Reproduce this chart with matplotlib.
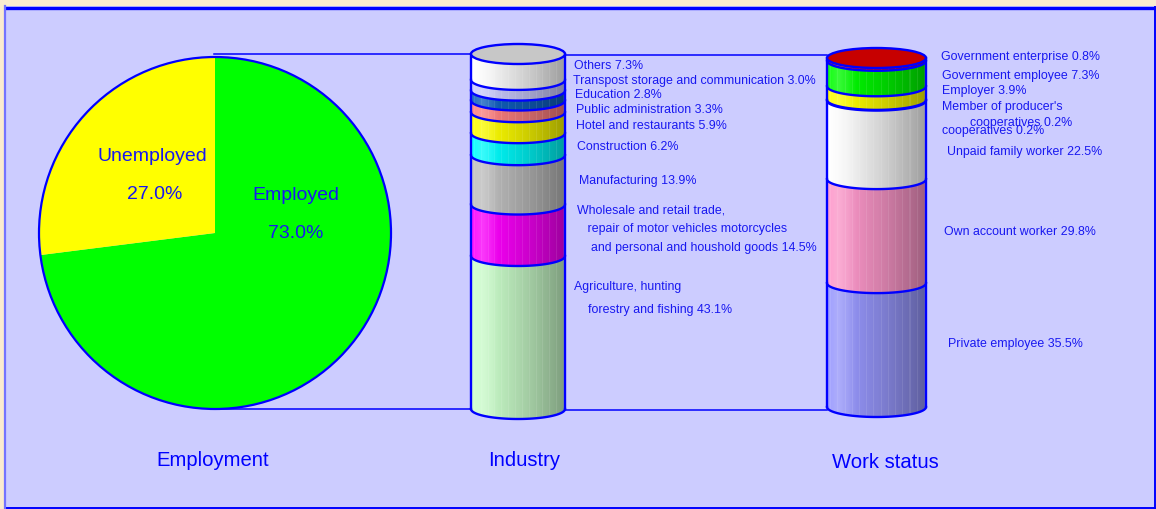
import numpy as np
import matplotlib
matplotlib.use("Agg")
import matplotlib.pyplot as plt
from matplotlib.patches import Rectangle, Circle, Ellipse, PathPatch
from matplotlib.path import Path
from matplotlib.colors import to_rgb

plt.rcParams['font.family'] = ['Liberation Sans', 'DejaVu Sans']

# ---- data ----
emp_labels = ['Employed', 'Unemployed']
emp_values = [73.0, 27.0]
emp_colors = ['#00FF00', '#FFFF00']

ind_labels = ['Agriculture, hunting\n    forestry and fishing',
              'Wholesale and retail trade,\n   repair of motor vehicles motorcycles\n    and personal and houshold goods',
              'Manufacturing', 'Construction', 'Hotel and restaurants',
              'Public administration', 'Education',
              'Transpost storage and communication', 'Others']
ind_values = [43.1, 14.5, 13.9, 6.2, 5.9, 3.3, 2.8, 3.0, 7.3]
ind_colors = ['#CCFFCC', '#FF00FF', '#C0C0C0', '#00FFFF', '#FFFF00',
              '#FF8080', '#1060C0', '#CCCCFF', '#FFFFFF']

ws_labels = ['Private employee', 'Own account worker', 'Unpaid family worker',
             'cooperatives', 'Employer', 'Government employee',
             'Government enterprise']
ws_values = [35.5, 29.8, 22.5, 0.2, 3.9, 7.3, 0.8]
ws_colors = ['#9999FF', '#FF99CC', '#FFFFFF', '#3333FF', '#FFFF00',
             '#00FF00', '#FF0000']

W, H = 1156, 509
BLUE = '#0000FF'
TXT = '#1818F0'
LW = 1.7


def Y(py):
    # pixel row (from top) -> data y
    return H - py


def shade(color, n=96):
    rgb = np.array(to_rgb(color))
    t = np.linspace(0, 1, n)
    col = rgb[None, :] * (1 - 0.38 * t ** 1.3)[:, None]
    w = np.clip(0.22 * (1 - np.abs(t - 0.12) / 0.18), 0, None)
    col = col + (1 - col) * w[:, None]
    col[3::7] = col[3::7] + (1 - col[3::7]) * 0.09
    return np.clip(col, 0, 1)[None, :, :]


def cylinder(ax, cx, a, b, ybot, ytop, values, colors):
    frac = np.concatenate([[0], np.cumsum(values)]) / np.sum(values)
    levels = Y(ybot) + (Y(ytop) - Y(ybot)) * frac
    t = np.linspace(np.pi, 2 * np.pi, 120)
    for i, c in enumerate(colors):
        y0, y1 = levels[i], levels[i + 1]
        xs = np.concatenate([cx + a * np.cos(t), cx + a * np.cos(t[::-1])])
        ys = np.concatenate([y0 + b * np.sin(t), y1 + b * np.sin(t[::-1])])
        patch = PathPatch(Path(np.column_stack([xs, ys])), fc='none', ec='none')
        ax.add_patch(patch)
        im = ax.imshow(shade(c), extent=[cx - a, cx + a, y0 - b - 1, y1 + 1],
                       aspect='auto', interpolation='nearest', zorder=3)
        im.set_clip_path(patch)
    for y in levels[:-1]:
        ax.plot(cx + a * np.cos(t), y + b * np.sin(t), color=BLUE, lw=LW, zorder=4)
    ax.plot([cx - a, cx - a], [levels[0], levels[-1]], color=BLUE, lw=LW, zorder=4)
    ax.plot([cx + a, cx + a], [levels[0], levels[-1]], color=BLUE, lw=LW, zorder=4)
    top = np.array(to_rgb(colors[-1])) * 0.78
    ax.add_patch(Ellipse((cx, levels[-1]), 2 * a, 2 * b, fc=top, ec=BLUE,
                         lw=LW, zorder=5))


fig = plt.figure(figsize=(W / 100, H / 100), dpi=100, facecolor='#FAEBCF')
ax = fig.add_axes([0, 0, 1, 1])
ax.axis('off')

# panel and frame
ax.add_patch(Rectangle((5, Y(508)), 1150, 502, fc='#CCCCFF', ec='none', zorder=0))
ax.plot([7, 1156], [Y(7.5), Y(7.5)], color=BLUE, lw=2.4, zorder=1)
ax.plot([5, 5], [Y(6), Y(509)], color='#7373FF', lw=1.6, zorder=1)
ax.plot([1155, 1155], [Y(7), Y(509)], color=BLUE, lw=1.4, zorder=1)
ax.plot([7, 1156], [Y(508.3), Y(508.3)], color=BLUE, lw=1.4, zorder=1)

# connector lines
ax.plot([214, 471], [Y(54), Y(54)], color=BLUE, lw=1.1, zorder=2)
ax.plot([565, 827], [Y(54.5), Y(54.5)], color=BLUE, lw=1.1, zorder=2)
ax.plot([214, 471], [Y(409), Y(409)], color=BLUE, lw=1.1, zorder=2)
ax.plot([565, 827], [Y(410), Y(410)], color=BLUE, lw=1.1, zorder=2)

# pie
ax.pie(emp_values, colors=emp_colors, startangle=90, counterclock=False,
       center=(215, Y(233)), radius=176, wedgeprops=dict(linewidth=0),
       frame=True)
ax.add_patch(Circle((215, Y(233)), 176, fc='none', ec=BLUE, lw=1.6, zorder=3))
ax.text(296, Y(195), emp_labels[0], color=TXT, fontsize=14, ha='center', va='center')
ax.text(296, Y(233), f'{emp_values[0]:.1f}%', color=TXT, fontsize=14, ha='center', va='center')
ax.text(152, Y(156), emp_labels[1], color=TXT, fontsize=14, ha='center', va='center')
ax.text(155, Y(194), f'{emp_values[1]:.1f}%', color=TXT, fontsize=14, ha='center', va='center')

# cylinders
cylinder(ax, 518, 47, 10, 409, 54, ind_values, ind_colors)
cylinder(ax, 876.5, 49.5, 10, 407, 58, ws_values, ws_colors)

# industry labels (left x, centre y of first line)
ind_pos = [(574, 287), (577, 210), (579, 181), (577, 147), (576, 126),
           (576, 110), (575, 95), (573, 81), (574, 66)]
ind_gap = [23, 19, 0, 0, 0, 0, 0, 0, 0]
for lab, v, (px, py), g in zip(ind_labels, ind_values, ind_pos, ind_gap):
    lines = (lab + f' {v:.1f}%').split('\n')
    for k, ln in enumerate(lines):
        ax.text(px, Y(py + k * g), ln, color=TXT, fontsize=8.9, ha='left', va='center')

ws_pos = [(948, 344), (944, 232), (947, 152), (942, 131), (942, 91),
          (942, 76), (941, 57)]
for lab, v, (px, py) in zip(ws_labels, ws_values, ws_pos):
    ax.text(px, Y(py), f'{lab} {v:.1f}%', color=TXT, fontsize=8.9, ha='left', va='center')
ax.text(942, Y(107), "Member of producer's", color=TXT, fontsize=8.9, ha='left', va='center')
ax.text(970, Y(123), f'{ws_labels[3]} {ws_values[3]:.1f}%', color=TXT, fontsize=8.9,
        ha='left', va='center')

# titles
ax.text(213, Y(460), 'Employment', color=BLUE, fontsize=14.6, ha='center', va='center')
ax.text(524, Y(461), 'Industry', color=BLUE, fontsize=14.6, ha='center', va='center')
ax.text(885, Y(463), 'Work status', color=BLUE, fontsize=14.6, ha='center', va='center')

ax.set_xlim(0, W)
ax.set_ylim(0, H)
ax.set_aspect('auto')
fig.savefig('out.png', dpi=100, facecolor=fig.get_facecolor())
